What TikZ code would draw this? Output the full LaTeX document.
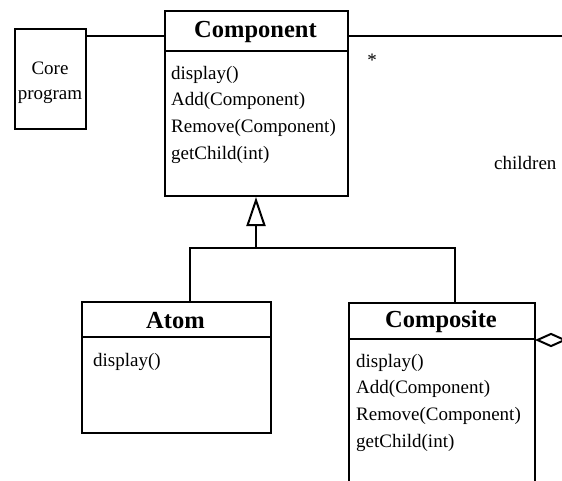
\documentclass[tikz,border=0pt]{standalone}
\usepackage{fontspec}
\setmainfont{Liberation Serif}
\usetikzlibrary{arrows.meta}
\usetikzlibrary{shapes.geometric}

\begin{document}
\begin{tikzpicture}[x=1pt, y=-1pt,
        umlbox/.style={draw, line width=2pt, rectangle, inner sep=0pt, anchor=north west},
        umlline/.style={line width=2pt},
        classname/.style={font=\fontsize{24.5}{29}\selectfont\bfseries, inner sep=0pt},
        methods/.style={font=\fontsize{19}{26.6}\selectfont, align=left, anchor=north west, inner sep=0pt},
        plaintext/.style={font=\fontsize{19}{25}\selectfont, inner sep=0pt}]
            \useasboundingbox (0,0) rectangle (562,481);
            \clip (0,0) rectangle (562,481);

            % Core program
            \node[umlbox, minimum width=71pt, minimum height=100pt] (core) at (14,28) {};
            \node[plaintext, align=center] (coretext) at (50,83) {Core\\program};

            % Component
            \node[umlbox, minimum width=183pt, minimum height=185pt] (comp) at (164,10) {};
            \draw[umlline] ([yshift=-41pt]comp.north west) -- ([yshift=-41pt]comp.north east);
            \node[classname] (compname) at (255.5,32.5) {Component};
            \node[methods] (compops) at (171,66) {display()\\Add(Component)\\Remove(Component)\\getChild(int)};

            % Atom
            \node[umlbox, minimum width=189pt, minimum height=131pt] (atom) at (81,301) {};
            \draw[umlline] ([yshift=-36pt]atom.north west) -- ([yshift=-36pt]atom.north east);
            \node[classname] (atomname) at (175.5,320.5) {Atom};
            \node[methods] (atomops) at (93,353) {display()};

            % Composite
            \node[umlbox, minimum width=186pt, minimum height=200pt] (compo) at (348,302) {};
            \draw[umlline] ([yshift=-37pt]compo.north west) -- ([yshift=-37pt]compo.north east);
            \node[classname] (componame) at (441,322) {Composite};
            \node[methods] (compoops) at (356,354) {display()\\Add(Component)\\Remove(Component)\\getChild(int)};

            % inheritance
            \coordinate (joint) at (256,248);
            \draw[umlline, -{Triangle[open, length=29pt, width=19pt]}] (joint) -- (comp.south -| joint);
            \draw[umlline] ([xshift=109pt]atom.north west) |- (joint) -| ([xshift=107pt]compo.north west);

            % associations
            \node[diamond, draw, line width=2pt, fill=white, inner sep=0pt, aspect=2.1,
                  minimum width=28pt, minimum height=13pt, anchor=west] (agg) at ([yshift=-38pt]compo.north east) {};
            \coordinate (outside) at (620,36);
            \draw[umlline] ([yshift=-8pt]core.north east) -- ([yshift=-26pt]comp.north west);
            \draw[umlline] (agg.east) -| (outside) -- ([yshift=-26pt]comp.north east);
            \node[plaintext] (many) at (372,60) {*};
            \node[plaintext, anchor=west] (rolename) at (494,163) {children};
        \end{tikzpicture}
\end{document}
